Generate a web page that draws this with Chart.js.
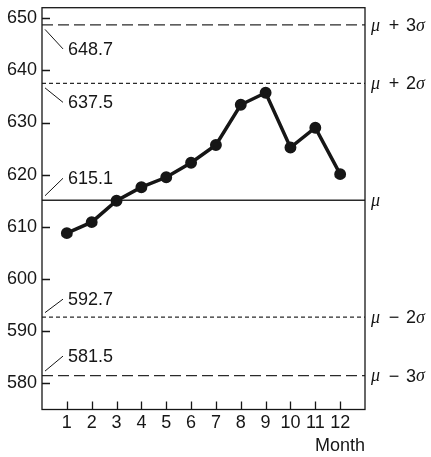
<!DOCTYPE html>
<html>
<head>
<meta charset="utf-8">
<script src="https://cdn.jsdelivr.net/npm/chart.js@4/dist/chart.umd.min.js"></script>
<style>
  html, body { margin: 0; padding: 0; background: #fff; }
  #wrap { width: 431px; height: 457px; }
</style>
</head>
<body>
<div id="wrap"><canvas id="myChart" width="431" height="457"></canvas></div>
<script>
// data
const months = [1, 2, 3, 4, 5, 6, 7, 8, 9, 10, 11, 12]
const values = [608.8, 610.9, 615.0, 617.6, 619.5, 622.3, 625.7, 633.4, 635.7, 625.2, 629.0, 620.1]
const limitValues = [648.7, 637.5, 615.1, 592.7, 581.5]
const limitLabels = ['648.7', '637.5', '615.1', '592.7', '581.5']
const sigmaSigns = ['+', '+', '', '\u2212', '\u2212']
const sigmaDigits = ['3', '2', '', '2', '3']
const xTicks = [1, 2, 3, 4, 5, 6, 7, 8, 9, 10, 11, 12]
const yTicks = [580, 590, 600, 610, 620, 630, 640, 650]

// styles for the limit lines
const limitDash = [[11, 5], [4, 3], [], [4, 3], [11, 5]]
const limitWidth = [1.3, 1.3, 1.4, 1.3, 1.3]
const labelShift = [24, 19, -22, -18, -19.5]

const ink = '#161616'
const FONT = '"Liberation Sans", Arial, sans-serif'
const SERIF = 'italic 18px "Liberation Serif", "DejaVu Serif", serif'

let datasets = [{
    data: months.map((m, i) => ({ x: m, y: values[i] })),
    borderColor: ink,
    backgroundColor: ink,
    borderWidth: 3.5,
    pointRadius: 4.2,
    pointHoverRadius: 4.2,
    tension: 0,
    order: 0
}]
for (var i = 0; i < limitValues.length; i++) {
    datasets.push({
        data: [{ x: 0, y: limitValues[i] }, { x: 13, y: limitValues[i] }],
        borderColor: '#2a2a2a',
        borderWidth: limitWidth[i],
        borderDash: limitDash[i],
        pointRadius: 0,
        order: 1
    })
}

const extras = {
    id: 'extras',
    afterDatasetsDraw(chart) {
        const ctx = chart.ctx
        const a = chart.chartArea
        const xs = chart.scales.x
        const ys = chart.scales.y
        ctx.save()
        ctx.strokeStyle = ink
        ctx.lineWidth = 1.3
        ctx.strokeRect(a.left, a.top, a.right - a.left, a.bottom - a.top)
        // inward ticks
        ctx.beginPath()
        yTicks.forEach(v => {
            const p = Math.round(ys.getPixelForValue(v)) + 0.5
            ctx.moveTo(a.left, p); ctx.lineTo(a.left + 8, p)
        })
        xTicks.forEach(v => {
            const p = Math.round(xs.getPixelForValue(v)) + 0.5
            ctx.moveTo(p, a.bottom); ctx.lineTo(p, a.bottom - 8)
        })
        ctx.stroke()

        // left value labels with leaders
        ctx.lineWidth = 1
        ctx.fillStyle = ink
        ctx.font = '18px ' + FONT
        ctx.textBaseline = 'middle'
        ctx.textAlign = 'left'
        limitValues.forEach((v, i) => {
            const py = ys.getPixelForValue(v)
            const s = labelShift[i]
            const dir = s > 0 ? 1 : -1
            ctx.beginPath()
            ctx.moveTo(a.left + 3, py + dir * 4.5)
            ctx.lineTo(a.left + 21, py + s)
            ctx.stroke()
            ctx.fillText(limitLabels[i], a.left + 26, py + s + 1)
        })

        // right sigma labels
        limitValues.forEach((v, i) => {
            const py = ys.getPixelForValue(v) + 1
            ctx.textAlign = 'left'
            ctx.font = SERIF
            ctx.fillText('\u03BC', a.right + 6, py)
            if (!sigmaSigns[i]) return
            ctx.font = '18px ' + FONT
            ctx.textAlign = 'center'
            ctx.fillText(sigmaSigns[i], a.right + 29, py)
            ctx.textAlign = 'left'
            ctx.fillText(sigmaDigits[i], a.right + 41, py)
            ctx.font = SERIF
            ctx.fillText('\u03C3', a.right + 51, py)
        })

        // axis title
        ctx.font = '18px ' + FONT
        ctx.textAlign = 'right'
        ctx.fillText('Month', a.right, 446)
        ctx.restore()
    }
}

var ctx = document.getElementById('myChart')
let chart = new Chart(ctx, {
    type: 'line',
    data: { datasets: datasets },
    options: {
        responsive: false,
        animation: false,
        events: [],
        layout: { padding: { top: 4, right: 66, left: 0, bottom: 0 } },
        plugins: { legend: { display: false }, tooltip: { enabled: false } },
        scales: {
            x: {
                type: 'linear',
                min: 0,
                max: 13,
                grid: { display: false, drawTicks: false },
                border: { display: false },
                afterFit: (s) => { s.height = 47.5; s.paddingLeft = 0; s.paddingRight = 0 },
                afterBuildTicks: (s) => { s.ticks = xTicks.map(v => ({ value: v })) },
                ticks: { color: ink, padding: 3, maxRotation: 0, autoSkip: false, font: { family: FONT, size: 18 } }
            },
            y: {
                min: 575,
                max: 652,
                grid: { display: false, drawTicks: false },
                border: { display: false },
                afterFit: (s) => { s.width = 42; s.paddingTop = 0; s.paddingBottom = 0 },
                afterBuildTicks: (s) => { s.ticks = yTicks.map(v => ({ value: v })) },
                ticks: { color: ink, padding: 5, font: { family: FONT, size: 18 } }
            }
        }
    },
    plugins: [extras]
})
</script>
</body>
</html>
